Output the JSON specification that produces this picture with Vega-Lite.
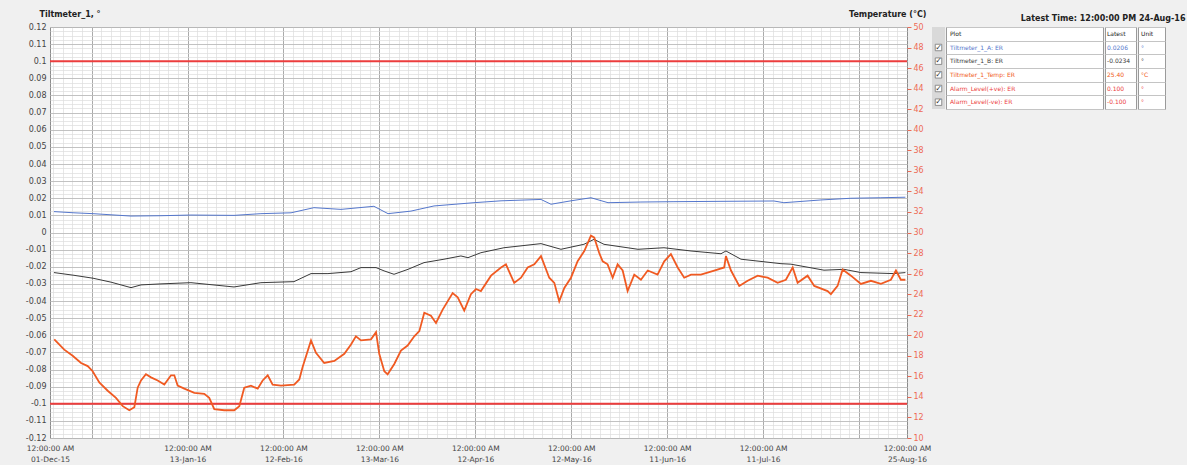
{
  "$schema": "https://vega.github.io/schema/vega-lite/v6.json",
  "background": "#f0f0f0",
  "padding": {"left": 5, "top": 9, "right": 5, "bottom": 2},
  "config": {
    "font": "DejaVu Sans",
    "view": {"stroke": "#8c8c8c"},
    "axis": {"labelFont": "DejaVu Sans", "labelFontSize": 8, "labelColor": "#444444", "titleFont": "DejaVu Sans", "titleFontSize": 8, "titleFontWeight": "bold", "titleColor": "#222222"}
  },
  "datasets": {
    "tilt": [
      {"t": "2015-12-02T06:00", "s": "Tiltmeter_1_A: ER", "v": 0.0122},
      {"t": "2015-12-08T12:00", "s": "Tiltmeter_1_A: ER", "v": 0.0115},
      {"t": "2015-12-14T11:00", "s": "Tiltmeter_1_A: ER", "v": 0.011},
      {"t": "2015-12-26T08:00", "s": "Tiltmeter_1_A: ER", "v": 0.0096},
      {"t": "2016-01-04T17:00", "s": "Tiltmeter_1_A: ER", "v": 0.0098},
      {"t": "2016-01-14T02:00", "s": "Tiltmeter_1_A: ER", "v": 0.0102},
      {"t": "2016-01-27T13:00", "s": "Tiltmeter_1_A: ER", "v": 0.01},
      {"t": "2016-02-04T23:00", "s": "Tiltmeter_1_A: ER", "v": 0.011},
      {"t": "2016-02-14T09:00", "s": "Tiltmeter_1_A: ER", "v": 0.0115},
      {"t": "2016-02-21T13:00", "s": "Tiltmeter_1_A: ER", "v": 0.0145},
      {"t": "2016-03-01T00:00", "s": "Tiltmeter_1_A: ER", "v": 0.0135},
      {"t": "2016-03-11T07:00", "s": "Tiltmeter_1_A: ER", "v": 0.0153},
      {"t": "2016-03-15T17:00", "s": "Tiltmeter_1_A: ER", "v": 0.011},
      {"t": "2016-03-22T21:00", "s": "Tiltmeter_1_A: ER", "v": 0.0125},
      {"t": "2016-03-30T02:00", "s": "Tiltmeter_1_A: ER", "v": 0.0155},
      {"t": "2016-04-11T14:00", "s": "Tiltmeter_1_A: ER", "v": 0.0174},
      {"t": "2016-04-20T01:00", "s": "Tiltmeter_1_A: ER", "v": 0.0185},
      {"t": "2016-05-02T13:00", "s": "Tiltmeter_1_A: ER", "v": 0.0193},
      {"t": "2016-05-05T16:00", "s": "Tiltmeter_1_A: ER", "v": 0.0165},
      {"t": "2016-05-11T22:00", "s": "Tiltmeter_1_A: ER", "v": 0.0185},
      {"t": "2016-05-18T04:00", "s": "Tiltmeter_1_A: ER", "v": 0.0203},
      {"t": "2016-05-23T12:00", "s": "Tiltmeter_1_A: ER", "v": 0.0174},
      {"t": "2016-06-02T19:00", "s": "Tiltmeter_1_A: ER", "v": 0.0178},
      {"t": "2016-06-13T03:00", "s": "Tiltmeter_1_A: ER", "v": 0.018},
      {"t": "2016-06-27T20:00", "s": "Tiltmeter_1_A: ER", "v": 0.0182},
      {"t": "2016-07-14T09:00", "s": "Tiltmeter_1_A: ER", "v": 0.0184},
      {"t": "2016-07-17T12:00", "s": "Tiltmeter_1_A: ER", "v": 0.0174},
      {"t": "2016-07-29T02:00", "s": "Tiltmeter_1_A: ER", "v": 0.019},
      {"t": "2016-08-07T11:00", "s": "Tiltmeter_1_A: ER", "v": 0.02},
      {"t": "2016-08-16T20:00", "s": "Tiltmeter_1_A: ER", "v": 0.0203},
      {"t": "2016-08-24T12:00", "s": "Tiltmeter_1_A: ER", "v": 0.0206},
      {"t": "2015-12-02T06:00", "s": "Tiltmeter_1_B: ER", "v": -0.0234},
      {"t": "2015-12-08T12:00", "s": "Tiltmeter_1_B: ER", "v": -0.025},
      {"t": "2015-12-14T11:00", "s": "Tiltmeter_1_B: ER", "v": -0.0267},
      {"t": "2015-12-20T02:00", "s": "Tiltmeter_1_B: ER", "v": -0.029},
      {"t": "2015-12-26T08:00", "s": "Tiltmeter_1_B: ER", "v": -0.0322},
      {"t": "2015-12-29T11:00", "s": "Tiltmeter_1_B: ER", "v": -0.0306},
      {"t": "2016-01-04T17:00", "s": "Tiltmeter_1_B: ER", "v": -0.03},
      {"t": "2016-01-14T02:00", "s": "Tiltmeter_1_B: ER", "v": -0.0293},
      {"t": "2016-01-27T13:00", "s": "Tiltmeter_1_B: ER", "v": -0.0318},
      {"t": "2016-02-04T23:00", "s": "Tiltmeter_1_B: ER", "v": -0.0293},
      {"t": "2016-02-15T07:00", "s": "Tiltmeter_1_B: ER", "v": -0.0287},
      {"t": "2016-02-20T15:00", "s": "Tiltmeter_1_B: ER", "v": -0.024},
      {"t": "2016-02-25T22:00", "s": "Tiltmeter_1_B: ER", "v": -0.024},
      {"t": "2016-03-04T03:00", "s": "Tiltmeter_1_B: ER", "v": -0.0229},
      {"t": "2016-03-07T06:00", "s": "Tiltmeter_1_B: ER", "v": -0.0205},
      {"t": "2016-03-11T23:00", "s": "Tiltmeter_1_B: ER", "v": -0.0205},
      {"t": "2016-03-14T11:00", "s": "Tiltmeter_1_B: ER", "v": -0.0224},
      {"t": "2016-03-17T14:00", "s": "Tiltmeter_1_B: ER", "v": -0.0244},
      {"t": "2016-03-21T23:00", "s": "Tiltmeter_1_B: ER", "v": -0.0215},
      {"t": "2016-03-26T23:00", "s": "Tiltmeter_1_B: ER", "v": -0.0176},
      {"t": "2016-04-02T05:00", "s": "Tiltmeter_1_B: ER", "v": -0.0156},
      {"t": "2016-04-07T12:00", "s": "Tiltmeter_1_B: ER", "v": -0.0137},
      {"t": "2016-04-09T17:00", "s": "Tiltmeter_1_B: ER", "v": -0.0147},
      {"t": "2016-04-13T18:00", "s": "Tiltmeter_1_B: ER", "v": -0.0118},
      {"t": "2016-04-20T23:00", "s": "Tiltmeter_1_B: ER", "v": -0.0089},
      {"t": "2016-05-02T13:00", "s": "Tiltmeter_1_B: ER", "v": -0.0065},
      {"t": "2016-05-08T19:00", "s": "Tiltmeter_1_B: ER", "v": -0.0098},
      {"t": "2016-05-15T23:00", "s": "Tiltmeter_1_B: ER", "v": -0.0069},
      {"t": "2016-05-19T03:00", "s": "Tiltmeter_1_B: ER", "v": -0.004},
      {"t": "2016-05-22T06:00", "s": "Tiltmeter_1_B: ER", "v": -0.0069},
      {"t": "2016-06-01T21:00", "s": "Tiltmeter_1_B: ER", "v": -0.0098},
      {"t": "2016-06-10T00:00", "s": "Tiltmeter_1_B: ER", "v": -0.0089},
      {"t": "2016-06-18T11:00", "s": "Tiltmeter_1_B: ER", "v": -0.0108},
      {"t": "2016-06-27T20:00", "s": "Tiltmeter_1_B: ER", "v": -0.0124},
      {"t": "2016-06-29T09:00", "s": "Tiltmeter_1_B: ER", "v": -0.0108},
      {"t": "2016-07-04T02:00", "s": "Tiltmeter_1_B: ER", "v": -0.0156},
      {"t": "2016-07-16T14:00", "s": "Tiltmeter_1_B: ER", "v": -0.0182},
      {"t": "2016-07-19T17:00", "s": "Tiltmeter_1_B: ER", "v": -0.0185},
      {"t": "2016-07-30T01:00", "s": "Tiltmeter_1_B: ER", "v": -0.022},
      {"t": "2016-08-05T07:00", "s": "Tiltmeter_1_B: ER", "v": -0.0215},
      {"t": "2016-08-10T14:00", "s": "Tiltmeter_1_B: ER", "v": -0.0234},
      {"t": "2016-08-20T22:00", "s": "Tiltmeter_1_B: ER", "v": -0.024},
      {"t": "2016-08-24T12:00", "s": "Tiltmeter_1_B: ER", "v": -0.0234}
    ],
    "temp": [
      {"t": "2015-12-02T08:00", "v": 19.6}, {"t": "2015-12-05T11:00", "v": 18.6}, {"t": "2015-12-08T02:00", "v": 18.0},
      {"t": "2015-12-10T17:00", "v": 17.3}, {"t": "2015-12-12T19:00", "v": 17.0}, {"t": "2015-12-14T08:00", "v": 16.5},
      {"t": "2015-12-16T10:00", "v": 15.4}, {"t": "2015-12-19T01:00", "v": 14.6}, {"t": "2015-12-21T15:00", "v": 13.9},
      {"t": "2015-12-23T18:00", "v": 13.1}, {"t": "2015-12-25T19:00", "v": 12.7}, {"t": "2015-12-27T09:00", "v": 13.0},
      {"t": "2015-12-28T10:00", "v": 14.9}, {"t": "2015-12-29T11:00", "v": 15.6}, {"t": "2015-12-31T00:00", "v": 16.2},
      {"t": "2016-01-01T14:00", "v": 15.9}, {"t": "2016-01-03T16:00", "v": 15.6}, {"t": "2016-01-05T18:00", "v": 15.2},
      {"t": "2016-01-07T20:00", "v": 16.1}, {"t": "2016-01-08T21:00", "v": 16.1}, {"t": "2016-01-09T22:00", "v": 15.1},
      {"t": "2016-01-12T00:00", "v": 14.8}, {"t": "2016-01-15T03:00", "v": 14.4}, {"t": "2016-01-18T06:00", "v": 14.3},
      {"t": "2016-01-19T19:00", "v": 13.9}, {"t": "2016-01-21T09:00", "v": 12.8}, {"t": "2016-01-24T12:00", "v": 12.7},
      {"t": "2016-01-27T15:00", "v": 12.7}, {"t": "2016-01-29T05:00", "v": 13.1}, {"t": "2016-01-30T18:00", "v": 14.9},
      {"t": "2016-02-01T20:00", "v": 15.1}, {"t": "2016-02-03T23:00", "v": 14.8}, {"t": "2016-02-05T12:00", "v": 15.6},
      {"t": "2016-02-07T02:00", "v": 16.1}, {"t": "2016-02-08T15:00", "v": 15.2}, {"t": "2016-02-11T06:00", "v": 15.1},
      {"t": "2016-02-15T09:00", "v": 15.2}, {"t": "2016-02-16T23:00", "v": 15.7}, {"t": "2016-02-18T00:00", "v": 16.9},
      {"t": "2016-02-20T15:00", "v": 19.5}, {"t": "2016-02-22T04:00", "v": 18.3}, {"t": "2016-02-24T18:00", "v": 17.3},
      {"t": "2016-02-27T22:00", "v": 17.5}, {"t": "2016-03-02T01:00", "v": 18.2}, {"t": "2016-03-04T03:00", "v": 19.1},
      {"t": "2016-03-05T16:00", "v": 19.9}, {"t": "2016-03-07T06:00", "v": 19.5}, {"t": "2016-03-10T09:00", "v": 19.6},
      {"t": "2016-03-11T23:00", "v": 20.3}, {"t": "2016-03-12T23:00", "v": 18.2}, {"t": "2016-03-14T13:00", "v": 16.5},
      {"t": "2016-03-15T14:00", "v": 16.2}, {"t": "2016-03-17T16:00", "v": 17.2}, {"t": "2016-03-19T18:00", "v": 18.5},
      {"t": "2016-03-21T20:00", "v": 19.0}, {"t": "2016-03-23T22:00", "v": 19.9}, {"t": "2016-03-25T12:00", "v": 20.4},
      {"t": "2016-03-27T01:00", "v": 22.2}, {"t": "2016-03-29T03:00", "v": 21.9}, {"t": "2016-03-30T17:00", "v": 21.2},
      {"t": "2016-04-01T19:00", "v": 22.5}, {"t": "2016-04-04T22:00", "v": 24.1}, {"t": "2016-04-06T12:00", "v": 23.7},
      {"t": "2016-04-08T13:00", "v": 22.4}, {"t": "2016-04-10T15:00", "v": 24.0}, {"t": "2016-04-12T05:00", "v": 24.5},
      {"t": "2016-04-13T18:00", "v": 24.3}, {"t": "2016-04-16T22:00", "v": 25.8}, {"t": "2016-04-20T01:00", "v": 26.6},
      {"t": "2016-04-21T14:00", "v": 26.9}, {"t": "2016-04-24T04:00", "v": 25.1}, {"t": "2016-04-26T07:00", "v": 25.6},
      {"t": "2016-04-28T09:00", "v": 26.6}, {"t": "2016-04-30T11:00", "v": 26.9}, {"t": "2016-05-02T13:00", "v": 27.7},
      {"t": "2016-05-05T03:00", "v": 25.6}, {"t": "2016-05-06T17:00", "v": 25.1}, {"t": "2016-05-08T06:00", "v": 23.3},
      {"t": "2016-05-09T20:00", "v": 24.6}, {"t": "2016-05-11T22:00", "v": 25.6}, {"t": "2016-05-14T00:00", "v": 27.2},
      {"t": "2016-05-16T02:00", "v": 28.2}, {"t": "2016-05-18T04:00", "v": 29.7}, {"t": "2016-05-19T05:00", "v": 29.5},
      {"t": "2016-05-20T18:00", "v": 28.0}, {"t": "2016-05-21T20:00", "v": 27.2}, {"t": "2016-05-23T09:00", "v": 26.9},
      {"t": "2016-05-24T23:00", "v": 25.6}, {"t": "2016-05-26T12:00", "v": 26.9}, {"t": "2016-05-28T02:00", "v": 26.3},
      {"t": "2016-05-29T15:00", "v": 24.3}, {"t": "2016-05-31T17:00", "v": 25.9}, {"t": "2016-06-02T19:00", "v": 25.4},
      {"t": "2016-06-04T22:00", "v": 26.3}, {"t": "2016-06-08T00:00", "v": 25.9}, {"t": "2016-06-10T02:00", "v": 27.2},
      {"t": "2016-06-12T04:00", "v": 27.9}, {"t": "2016-06-14T07:00", "v": 26.6}, {"t": "2016-06-16T08:00", "v": 25.6},
      {"t": "2016-06-18T11:00", "v": 25.9}, {"t": "2016-06-21T13:00", "v": 25.9}, {"t": "2016-06-25T17:00", "v": 26.3},
      {"t": "2016-06-28T20:00", "v": 26.6}, {"t": "2016-06-29T09:00", "v": 27.7}, {"t": "2016-06-30T23:00", "v": 26.3},
      {"t": "2016-07-03T13:00", "v": 24.8}, {"t": "2016-07-06T04:00", "v": 25.3}, {"t": "2016-07-09T07:00", "v": 25.8},
      {"t": "2016-07-12T10:00", "v": 25.6}, {"t": "2016-07-15T13:00", "v": 25.1}, {"t": "2016-07-18T03:00", "v": 25.4},
      {"t": "2016-07-20T06:00", "v": 26.6}, {"t": "2016-07-21T19:00", "v": 25.1}, {"t": "2016-07-24T22:00", "v": 25.8},
      {"t": "2016-07-27T00:00", "v": 24.8}, {"t": "2016-07-31T04:00", "v": 24.3}, {"t": "2016-08-01T05:00", "v": 24.0},
      {"t": "2016-08-03T07:00", "v": 24.8}, {"t": "2016-08-04T21:00", "v": 26.4}, {"t": "2016-08-07T11:00", "v": 25.8},
      {"t": "2016-08-10T14:00", "v": 25.0}, {"t": "2016-08-13T17:00", "v": 25.3}, {"t": "2016-08-16T20:00", "v": 25.0},
      {"t": "2016-08-19T23:00", "v": 25.4}, {"t": "2016-08-21T13:00", "v": 26.3}, {"t": "2016-08-23T02:00", "v": 25.4},
      {"t": "2016-08-24T12:00", "v": 25.4}
    ],
    "alarm": [
      {"s": "Alarm_Level(+ve): ER", "v": 0.1},
      {"s": "Alarm_Level(-ve): ER", "v": -0.1}
    ],
    "tbl": [
      {"r": 0, "s": "hdr", "p": "Plot", "l": "Latest", "u": "Unit"},
      {"r": 1, "s": "Tiltmeter_1_A: ER", "p": "Tiltmeter_1_A: ER", "l": "0.0206", "u": "°"},
      {"r": 2, "s": "Tiltmeter_1_B: ER", "p": "Tiltmeter_1_B: ER", "l": "-0.0234", "u": "°"},
      {"r": 3, "s": "Tiltmeter_1_Temp: ER", "p": "Tiltmeter_1_Temp: ER", "l": "25.40", "u": "°C"},
      {"r": 4, "s": "Alarm_Level(+ve): ER", "p": "Alarm_Level(+ve): ER", "l": "0.100", "u": "°"},
      {"r": 5, "s": "Alarm_Level(-ve): ER", "p": "Alarm_Level(-ve): ER", "l": "-0.100", "u": "°"}
    ]
  },
  "spacing": 0,
  "hconcat": [
    {
      "width": 857,
      "height": 411,
      "view": {"fill": "white", "stroke": "#8c8c8c"},
      "resolve": {"scale": {"y": "independent"}, "axis": {"x": "independent", "y": "independent"}},
      "layer": [
        {
          "data": {"name": "tilt"},
          "transform": [{"filter": "datum.s == 'Tiltmeter_1_A: ER'"}],
          "mark": {"type": "line", "strokeWidth": 1},
          "encoding": {
            "x": {"field": "t", "type": "temporal",
              "scale": {"domain": [{"year": 2015, "month": 12, "date": 1}, {"year": 2016, "month": 8, "date": 25}]},
              "axis": {"orient": "bottom", "labels": false, "ticks": false, "domain": false, "grid": true, "gridColor": "#dcdcdc", "gridWidth": 0.7, "title": null, "minExtent": 0, "maxExtent": 0,
                "values": [
                  {"year": 2015, "month": 12, "date": 2}, {"year": 2015, "month": 12, "date": 5}, {"year": 2015, "month": 12, "date": 8}, {"year": 2015, "month": 12, "date": 11}, {"year": 2015, "month": 12, "date": 14}, {"year": 2015, "month": 12, "date": 17}, {"year": 2015, "month": 12, "date": 20}, {"year": 2015, "month": 12, "date": 23}, {"year": 2015, "month": 12, "date": 26}, {"year": 2015, "month": 12, "date": 29},
                  {"year": 2016, "month": 1, "date": 1}, {"year": 2016, "month": 1, "date": 4}, {"year": 2016, "month": 1, "date": 7}, {"year": 2016, "month": 1, "date": 10}, {"year": 2016, "month": 1, "date": 13}, {"year": 2016, "month": 1, "date": 16}, {"year": 2016, "month": 1, "date": 19}, {"year": 2016, "month": 1, "date": 22}, {"year": 2016, "month": 1, "date": 25}, {"year": 2016, "month": 1, "date": 28}, {"year": 2016, "month": 1, "date": 31},
                  {"year": 2016, "month": 2, "date": 3}, {"year": 2016, "month": 2, "date": 6}, {"year": 2016, "month": 2, "date": 9}, {"year": 2016, "month": 2, "date": 12}, {"year": 2016, "month": 2, "date": 15}, {"year": 2016, "month": 2, "date": 18}, {"year": 2016, "month": 2, "date": 21}, {"year": 2016, "month": 2, "date": 24}, {"year": 2016, "month": 2, "date": 27},
                  {"year": 2016, "month": 3, "date": 1}, {"year": 2016, "month": 3, "date": 4}, {"year": 2016, "month": 3, "date": 7}, {"year": 2016, "month": 3, "date": 10}, {"year": 2016, "month": 3, "date": 13}, {"year": 2016, "month": 3, "date": 16}, {"year": 2016, "month": 3, "date": 19}, {"year": 2016, "month": 3, "date": 22}, {"year": 2016, "month": 3, "date": 25}, {"year": 2016, "month": 3, "date": 28}, {"year": 2016, "month": 3, "date": 31},
                  {"year": 2016, "month": 4, "date": 3}, {"year": 2016, "month": 4, "date": 6}, {"year": 2016, "month": 4, "date": 9}, {"year": 2016, "month": 4, "date": 12}, {"year": 2016, "month": 4, "date": 15}, {"year": 2016, "month": 4, "date": 18}, {"year": 2016, "month": 4, "date": 21}, {"year": 2016, "month": 4, "date": 24}, {"year": 2016, "month": 4, "date": 27}, {"year": 2016, "month": 4, "date": 30},
                  {"year": 2016, "month": 5, "date": 3}, {"year": 2016, "month": 5, "date": 6}, {"year": 2016, "month": 5, "date": 9}, {"year": 2016, "month": 5, "date": 12}, {"year": 2016, "month": 5, "date": 15}, {"year": 2016, "month": 5, "date": 18}, {"year": 2016, "month": 5, "date": 21}, {"year": 2016, "month": 5, "date": 24}, {"year": 2016, "month": 5, "date": 27}, {"year": 2016, "month": 5, "date": 30},
                  {"year": 2016, "month": 6, "date": 2}, {"year": 2016, "month": 6, "date": 5}, {"year": 2016, "month": 6, "date": 8}, {"year": 2016, "month": 6, "date": 11}, {"year": 2016, "month": 6, "date": 14}, {"year": 2016, "month": 6, "date": 17}, {"year": 2016, "month": 6, "date": 20}, {"year": 2016, "month": 6, "date": 23}, {"year": 2016, "month": 6, "date": 26}, {"year": 2016, "month": 6, "date": 29},
                  {"year": 2016, "month": 7, "date": 2}, {"year": 2016, "month": 7, "date": 5}, {"year": 2016, "month": 7, "date": 8}, {"year": 2016, "month": 7, "date": 11}, {"year": 2016, "month": 7, "date": 14}, {"year": 2016, "month": 7, "date": 17}, {"year": 2016, "month": 7, "date": 20}, {"year": 2016, "month": 7, "date": 23}, {"year": 2016, "month": 7, "date": 26}, {"year": 2016, "month": 7, "date": 29},
                  {"year": 2016, "month": 8, "date": 1}, {"year": 2016, "month": 8, "date": 4}, {"year": 2016, "month": 8, "date": 7}, {"year": 2016, "month": 8, "date": 10}, {"year": 2016, "month": 8, "date": 13}, {"year": 2016, "month": 8, "date": 16}, {"year": 2016, "month": 8, "date": 19}, {"year": 2016, "month": 8, "date": 22}
                ]}},
            "y": {"field": "v", "type": "quantitative", "scale": {"domain": [-0.12, 0.12], "nice": false, "zero": false},
              "axis": {"orient": "left", "labels": false, "ticks": false, "domain": false, "grid": true, "gridColor": "#dcdcdc", "gridWidth": 0.7, "title": null, "minExtent": 0, "maxExtent": 0,
                "values": [-0.12, -0.1175, -0.115, -0.1125, -0.11, -0.1075, -0.105, -0.1025, -0.1, -0.0975, -0.095, -0.0925, -0.09, -0.0875, -0.085, -0.0825, -0.08, -0.0775, -0.075, -0.0725, -0.07, -0.0675, -0.065, -0.0625, -0.06, -0.0575, -0.055, -0.0525, -0.05, -0.0475, -0.045, -0.0425, -0.04, -0.0375, -0.035, -0.0325, -0.03, -0.0275, -0.025, -0.0225, -0.02, -0.0175, -0.015, -0.0125, -0.01, -0.0075, -0.005, -0.0025, 0, 0.0025, 0.005, 0.0075, 0.01, 0.0125, 0.015, 0.0175, 0.02, 0.0225, 0.025, 0.0275, 0.03, 0.0325, 0.035, 0.0375, 0.04, 0.0425, 0.045, 0.0475, 0.05, 0.0525, 0.055, 0.0575, 0.06, 0.0625, 0.065, 0.0675, 0.07, 0.0725, 0.075, 0.0775, 0.08, 0.0825, 0.085, 0.0875, 0.09, 0.0925, 0.095, 0.0975, 0.1, 0.1025, 0.105, 0.1075, 0.11, 0.1125, 0.115, 0.1175, 0.12]}},
            "color": {"field": "s", "type": "nominal", "legend": null,
              "scale": {"domain": ["hdr", "Tiltmeter_1_A: ER", "Tiltmeter_1_B: ER", "Tiltmeter_1_Temp: ER", "Alarm_Level(+ve): ER", "Alarm_Level(-ve): ER"], "range": ["#222222", "#5577cc", "#3a3a3a", "#f05a22", "#ec3d3d", "#ec3d3d"]}}
          }
        },
        {
          "data": {"name": "tilt"},
          "transform": [{"filter": "datum.s == 'Tiltmeter_1_B: ER'"}],
          "mark": {"type": "line", "strokeWidth": 1},
          "encoding": {
            "x": {"field": "t", "type": "temporal",
              "scale": {"domain": [{"year": 2015, "month": 12, "date": 1}, {"year": 2016, "month": 8, "date": 25}]},
              "axis": {"orient": "bottom", "labels": false, "ticks": false, "domain": false, "grid": true, "gridColor": "#9a9a9a", "gridWidth": 0.8, "title": null, "minExtent": 0, "maxExtent": 0,
                "values": [{"year": 2015, "month": 12, "date": 14}, {"year": 2016, "month": 1, "date": 13}, {"year": 2016, "month": 2, "date": 12}, {"year": 2016, "month": 3, "date": 13}, {"year": 2016, "month": 4, "date": 12}, {"year": 2016, "month": 5, "date": 12}, {"year": 2016, "month": 6, "date": 11}, {"year": 2016, "month": 7, "date": 11}, {"year": 2016, "month": 8, "date": 10}]}},
            "y": {"field": "v", "type": "quantitative", "scale": {"domain": [-0.12, 0.12], "nice": false, "zero": false}, "axis": null},
            "color": {"field": "s", "type": "nominal", "legend": null,
              "scale": {"domain": ["hdr", "Tiltmeter_1_A: ER", "Tiltmeter_1_B: ER", "Tiltmeter_1_Temp: ER", "Alarm_Level(+ve): ER", "Alarm_Level(-ve): ER"], "range": ["#222222", "#5577cc", "#3a3a3a", "#f05a22", "#ec3d3d", "#ec3d3d"]}}
          }
        },
        {
          "data": {"name": "alarm"},
          "mark": {"type": "rule", "strokeWidth": 2},
          "encoding": {
            "y": {"field": "v", "type": "quantitative", "scale": {"domain": [-0.12, 0.12], "nice": false, "zero": false},
              "axis": {"orient": "left", "grid": true, "gridColor": "#b2b2b2", "gridWidth": 0.7, "ticks": false, "domain": false, "labelPadding": 4,
                "labelExpr": "replace(format(datum.value, '~g'), '−', '-')",
                "values": [-0.12, -0.11, -0.1, -0.09, -0.08, -0.07, -0.06, -0.05, -0.04, -0.03, -0.02, -0.01, 0, 0.01, 0.02, 0.03, 0.04, 0.05, 0.06, 0.07, 0.08, 0.09, 0.1, 0.11, 0.12],
                "title": "Tiltmeter_1, °", "titleAngle": 0, "titleAlign": "left", "titleBaseline": "bottom", "titleX": -11, "titleY": -9,
                "minExtent": 44, "maxExtent": 44}},
            "color": {"field": "s", "type": "nominal", "legend": null,
              "scale": {"domain": ["hdr", "Tiltmeter_1_A: ER", "Tiltmeter_1_B: ER", "Tiltmeter_1_Temp: ER", "Alarm_Level(+ve): ER", "Alarm_Level(-ve): ER"], "range": ["#222222", "#5577cc", "#3a3a3a", "#f05a22", "#ec3d3d", "#ec3d3d"]}}
          }
        },
        {
          "data": {"name": "temp"},
          "mark": {"type": "line", "strokeWidth": 1.8, "color": "#f05a22"},
          "encoding": {
            "x": {"field": "t", "type": "temporal",
              "scale": {"domain": [{"year": 2015, "month": 12, "date": 1}, {"year": 2016, "month": 8, "date": 25}]},
              "axis": {"orient": "bottom", "grid": false, "ticks": false, "domain": false, "labelPadding": 6, "labelFlush": false, "labelOverlap": false, "labelBound": false, "labelLineHeight": 11, "labelFontSize": 7.5,
                "labelExpr": "[timeFormat(datum.value, '%I:%M:%S %p'), timeFormat(datum.value, '%d-%b-%y')]",
                "title": null,
                "values": [{"year": 2015, "month": 12, "date": 1}, {"year": 2016, "month": 1, "date": 13}, {"year": 2016, "month": 2, "date": 12}, {"year": 2016, "month": 3, "date": 13}, {"year": 2016, "month": 4, "date": 12}, {"year": 2016, "month": 5, "date": 12}, {"year": 2016, "month": 6, "date": 11}, {"year": 2016, "month": 7, "date": 11}, {"year": 2016, "month": 8, "date": 25}]}},
            "y": {"field": "v", "type": "quantitative", "scale": {"domain": [10, 50], "nice": false, "zero": false},
              "axis": {"orient": "right", "grid": false, "domain": false, "ticks": true, "tickSize": 4, "tickColor": "#ee6a55", "labelColor": "#ee6a55", "labelPadding": 2,
                "values": [10, 12, 14, 16, 18, 20, 22, 24, 26, 28, 30, 32, 34, 36, 38, 40, 42, 44, 46, 48, 50],
                "title": "Temperature (°C)", "titleAngle": 0, "titleAlign": "right", "titleBaseline": "bottom", "titleX": 19, "titleY": -9}}
          }
        }
      ]
    },
    {
      "title": {"text": "Latest Time: 12:00:00 PM 24-Aug-16", "anchor": "end", "fontSize": 8, "fontWeight": "bold", "font": "DejaVu Sans", "color": "#222222", "dx": 20, "offset": 4},
      "spacing": 0,
      "hconcat": [
        {
          "width": 13,
          "height": 82,
          "view": {"fill": "#d9d9d9", "stroke": null},
          "data": {"name": "tbl"},
          "transform": [{"filter": "datum.r > 0"}],
          "layer": [
            {
              "mark": {"type": "point", "shape": "square", "filled": true, "fill": "white", "stroke": "#777777", "strokeWidth": 0.8, "size": 42, "opacity": 1},
              "encoding": {"y": {"field": "r", "type": "ordinal", "scale": {"type": "band", "domain": [0, 1, 2, 3, 4, 5], "paddingInner": 0, "paddingOuter": 0}, "axis": null}}
            },
            {
              "mark": {"type": "text", "text": "✓", "fontSize": 8, "color": "#333333"},
              "encoding": {"y": {"field": "r", "type": "ordinal", "scale": {"type": "band", "domain": [0, 1, 2, 3, 4, 5], "paddingInner": 0, "paddingOuter": 0}, "axis": null}}
            }
          ]
        },
        {
          "width": 157,
          "height": 82,
          "view": {"fill": "white", "stroke": "#9a9a9a"},
          "data": {"name": "tbl"},
          "mark": {"type": "text", "align": "left", "dx": 4, "fontSize": 6},
          "encoding": {
            "x": {"datum": 0, "type": "quantitative", "scale": {"domain": [0, 1]}, "axis": null},
            "y": {"field": "r", "type": "ordinal", "scale": {"type": "band", "domain": [0, 1, 2, 3, 4, 5], "paddingInner": 0, "paddingOuter": 0},
              "axis": {"grid": true, "tickBand": "extent", "labels": false, "ticks": false, "domain": false, "title": null, "gridColor": "#c4c4c4", "minExtent": 0, "maxExtent": 0}},
            "text": {"field": "p"},
            "color": {"field": "s", "type": "nominal", "legend": null,
              "scale": {"domain": ["hdr", "Tiltmeter_1_A: ER", "Tiltmeter_1_B: ER", "Tiltmeter_1_Temp: ER", "Alarm_Level(+ve): ER", "Alarm_Level(-ve): ER"], "range": ["#222222", "#5577cc", "#3a3a3a", "#f05a22", "#ec3d3d", "#ec3d3d"]}}
          }
        },
        {
          "width": 31,
          "height": 82,
          "view": {"fill": "white", "stroke": "#9a9a9a"},
          "data": {"name": "tbl"},
          "mark": {"type": "text", "align": "left", "dx": 2, "fontSize": 6},
          "encoding": {
            "x": {"datum": 0, "type": "quantitative", "scale": {"domain": [0, 1]}, "axis": null},
            "y": {"field": "r", "type": "ordinal", "scale": {"type": "band", "domain": [0, 1, 2, 3, 4, 5], "paddingInner": 0, "paddingOuter": 0},
              "axis": {"grid": true, "tickBand": "extent", "labels": false, "ticks": false, "domain": false, "title": null, "gridColor": "#c4c4c4", "minExtent": 0, "maxExtent": 0}},
            "text": {"field": "l"},
            "color": {"field": "s", "type": "nominal", "legend": null,
              "scale": {"domain": ["hdr", "Tiltmeter_1_A: ER", "Tiltmeter_1_B: ER", "Tiltmeter_1_Temp: ER", "Alarm_Level(+ve): ER", "Alarm_Level(-ve): ER"], "range": ["#222222", "#5577cc", "#3a3a3a", "#f05a22", "#ec3d3d", "#ec3d3d"]}}
          }
        },
        {
          "width": 27,
          "height": 82,
          "view": {"fill": "white", "stroke": "#9a9a9a"},
          "data": {"name": "tbl"},
          "mark": {"type": "text", "align": "left", "dx": 3, "fontSize": 6},
          "encoding": {
            "x": {"datum": 0, "type": "quantitative", "scale": {"domain": [0, 1]}, "axis": null},
            "y": {"field": "r", "type": "ordinal", "scale": {"type": "band", "domain": [0, 1, 2, 3, 4, 5], "paddingInner": 0, "paddingOuter": 0},
              "axis": {"grid": true, "tickBand": "extent", "labels": false, "ticks": false, "domain": false, "title": null, "gridColor": "#c4c4c4", "minExtent": 0, "maxExtent": 0}},
            "text": {"field": "u"},
            "color": {"field": "s", "type": "nominal", "legend": null,
              "scale": {"domain": ["hdr", "Tiltmeter_1_A: ER", "Tiltmeter_1_B: ER", "Tiltmeter_1_Temp: ER", "Alarm_Level(+ve): ER", "Alarm_Level(-ve): ER"], "range": ["#222222", "#5577cc", "#3a3a3a", "#f05a22", "#ec3d3d", "#ec3d3d"]}}
          }
        }
      ]
    }
  ]
}
